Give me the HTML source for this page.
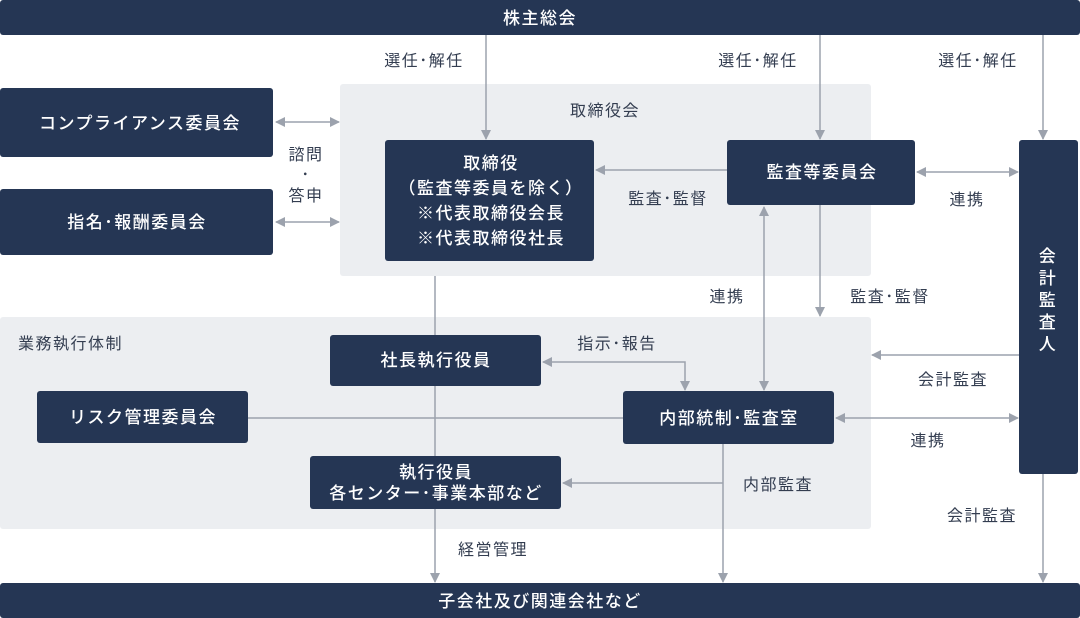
<!DOCTYPE html>
<html><head><meta charset="utf-8"><style>
html,body{margin:0;padding:0;background:#fff}
svg{display:block}
text{font-family:"Liberation Sans","Noto Sans CJK JP",sans-serif}
.w{fill:#fff;font-size:17px;text-anchor:middle;letter-spacing:1.5px;font-weight:500}
.l{fill:#333d50;font-size:16px;text-anchor:middle;letter-spacing:1.5px}
.ln{stroke:#9ca2ad;stroke-width:1.5;fill:none}
</style></head><body>
<svg width="1080" height="618" viewBox="0 0 1080 618">
<defs><marker id="a" markerWidth="10" markerHeight="10" refX="9" refY="5" orient="auto-start-reverse" markerUnits="userSpaceOnUse"><path d="M0,0 L10,5 L0,10z" fill="#9ca2ad"/></marker></defs>
<rect x="340" y="84" width="531" height="192" rx="3" fill="#eceef1"/>
<rect x="0" y="317" width="871" height="212" rx="3" fill="#eceef1"/>
<g class="ln">
<path d="M486 35V139" marker-end="url(#a)"/>
<path d="M820 35V139" marker-end="url(#a)"/>
<path d="M1043 35V139" marker-end="url(#a)"/>
<path d="M276 122H339" marker-start="url(#a)" marker-end="url(#a)"/>
<path d="M276 222H339" marker-start="url(#a)" marker-end="url(#a)"/>
<path d="M727 170H596" marker-end="url(#a)"/>
<path d="M917 172H1018" marker-start="url(#a)" marker-end="url(#a)"/>
<path d="M764 207V390" marker-start="url(#a)" marker-end="url(#a)"/>
<path d="M820 205V316" marker-end="url(#a)"/>
<path d="M1019 355H872" marker-end="url(#a)"/>
<path d="M836 418H1018" marker-start="url(#a)" marker-end="url(#a)"/>
<path d="M543 362H685V390" marker-start="url(#a)" marker-end="url(#a)"/>
<path d="M248 418H623"/>
<path d="M435 276V582" marker-end="url(#a)"/>
<path d="M723 444V582" marker-end="url(#a)"/>
<path d="M723 483H563" marker-end="url(#a)"/>
<path d="M1043 474V582" marker-end="url(#a)"/>
</g>
<g fill="#253654">
<rect x="0" y="0" width="1080" height="35" rx="3"/>
<rect x="0" y="583" width="1080" height="35" rx="3"/>
<rect x="0" y="88" width="273" height="69" rx="3"/>
<rect x="0" y="189" width="273" height="66" rx="3"/>
<rect x="385" y="140" width="209" height="121" rx="3"/>
<rect x="727" y="140" width="188" height="65" rx="3"/>
<rect x="1019" y="140" width="59" height="334" rx="3"/>
<rect x="330" y="335" width="211" height="51" rx="3"/>
<rect x="37" y="391" width="211" height="52" rx="3"/>
<rect x="623" y="391" width="211" height="53" rx="3"/>
<rect x="310" y="456" width="251" height="53" rx="3"/>
</g>
<text class="w" x="540" y="24">株主総会</text>
<text class="w" x="540" y="607">子会社及び関連会社など</text>
<text class="w" x="140" y="129">コンプライアンス委員会</text>
<text class="w" x="137" y="228">指名･報酬委員会</text>
<text class="w" x="491" y="169">取締役</text>
<text class="w" x="491" y="194">（監査等委員を除く）</text>
<text class="w" x="491" y="219">※代表取締役会長</text>
<text class="w" x="491" y="244">※代表取締役社長</text>
<text class="w" x="822" y="178">監査等委員会</text>
<g class="w"><text x="1048" y="262">会</text><text x="1048" y="284">計</text><text x="1048" y="306">監</text><text x="1048" y="328">査</text><text x="1048" y="350">人</text></g>
<text class="w" x="436" y="366">社長執行役員</text>
<text class="w" x="143" y="423">リスク管理委員会</text>
<text class="w" x="729" y="424">内部統制･監査室</text>
<text class="w" x="436" y="478">執行役員</text>
<text class="w" x="436" y="499">各センター･事業本部など</text>
<text class="l" x="424" y="66">選任･解任</text>
<text class="l" x="758" y="66">選任･解任</text>
<text class="l" x="978" y="66">選任･解任</text>
<text class="l" x="605" y="116">取締役会</text>
<text class="l" x="306" y="160">諮問</text>
<text class="l" x="306" y="180">･</text>
<text class="l" x="306" y="201">答申</text>
<text class="l" x="668" y="204">監査･監督</text>
<text class="l" x="967" y="205">連携</text>
<text class="l" x="727" y="302">連携</text>
<text class="l" x="890" y="302">監査･監督</text>
<text class="l" x="18" y="349" style="text-anchor:start">業務執行体制</text>
<text class="l" x="617" y="349">指示･報告</text>
<text class="l" x="953" y="385">会計監査</text>
<text class="l" x="928" y="446">連携</text>
<text class="l" x="778" y="490">内部監査</text>
<text class="l" x="982" y="521">会計監査</text>
<text class="l" x="493" y="555">経営管理</text>
</svg>
</body></html>
